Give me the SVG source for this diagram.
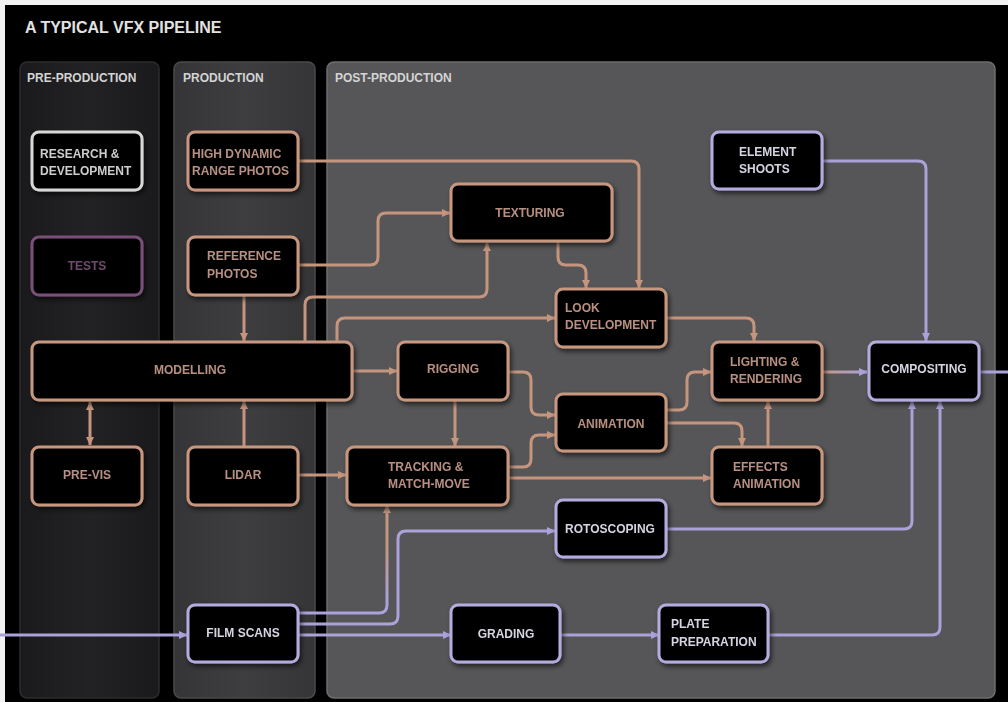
<svg xmlns="http://www.w3.org/2000/svg" width="1008" height="702" viewBox="0 0 1008 702">
<style>
text{font-family:"Liberation Sans",Arial,sans-serif;font-weight:bold;font-size:12px}
.title{font-size:16px;fill:#e2e2e2}
.plabel{fill:#d4d4d4}
.node rect{fill:#050505;stroke-width:3}
.o rect{stroke:#c8977f}
.o text{fill:#b88f80}
.p rect{stroke:#b4acdf}
.p text{fill:#d4d4e2}
.w rect{stroke:#d8d8d8}
.w text{fill:#cdcdcd}
.t rect{stroke:#7a4f7a}
.t text{fill:#6e4a6e}
.c{text-anchor:middle}
.co{fill:none;stroke:#c6957e;stroke-width:3}
.cp{fill:none;stroke:#aaa2d8;stroke-width:3}
</style>
<defs>
<marker id="ao" markerUnits="userSpaceOnUse" markerWidth="9" markerHeight="9" refX="8" refY="4.5" orient="auto-start-reverse"><path d="M0,0.5 L8.5,4.5 L0,8.5 Z" fill="#c6957e"/></marker>
<marker id="ap" markerUnits="userSpaceOnUse" markerWidth="9" markerHeight="9" refX="8" refY="4.5" orient="auto"><path d="M0,0.5 L8.5,4.5 L0,8.5 Z" fill="#aaa2d8"/></marker>
<linearGradient id="gTrack" gradientUnits="userSpaceOnUse" x1="0" y1="545" x2="0" y2="600"><stop offset="0" stop-color="#c6957e"/><stop offset="1" stop-color="#aaa2d8"/></linearGradient>
<linearGradient id="gLight" gradientUnits="userSpaceOnUse" x1="821" y1="0" x2="866" y2="0"><stop offset="0" stop-color="#c6957e"/><stop offset="1" stop-color="#aaa2d8"/></linearGradient>
<linearGradient id="gPre" x1="0" y1="0" x2="1" y2="0"><stop offset="0" stop-color="#1a1a1c"/><stop offset="0.5" stop-color="#222224"/><stop offset="1" stop-color="#1a1a1c"/></linearGradient>
<linearGradient id="gProd" x1="0" y1="0" x2="1" y2="0"><stop offset="0" stop-color="#353537"/><stop offset="0.5" stop-color="#3e3e40"/><stop offset="1" stop-color="#353537"/></linearGradient>
<filter id="sh" x="-20%" y="-20%" width="140%" height="150%"><feDropShadow dx="2" dy="3" stdDeviation="2.5" flood-color="#000" flood-opacity="0.6"/></filter>
</defs>
<rect width="1008" height="702" fill="#000"/>
<rect x="0" y="0" width="1008" height="5" fill="#f2f2f2"/>
<rect x="0" y="0" width="5" height="702" fill="#f2f2f2"/>
<text x="25" y="33" class="title">A TYPICAL VFX PIPELINE</text>
<g id="panels">
<rect x="20" y="62" width="139" height="636" rx="7" fill="url(#gPre)" stroke="#2c2c2e" stroke-width="1.5"/>
<rect x="174" y="62" width="141" height="636" rx="7" fill="url(#gProd)" stroke="#4a4a4c" stroke-width="1.5"/>
<rect x="327" y="62" width="668" height="636" rx="7" fill="#565658" stroke="#6e6e70" stroke-width="1.5"/>
<text x="27" y="82" class="plabel">PRE-PRODUCTION</text>
<text x="183" y="82" class="plabel">PRODUCTION</text>
<text x="335" y="82" class="plabel">POST-PRODUCTION</text>
</g>
<g id="connectors">
<path class="co" d="M298,161 H631 q8,0 8,8 V288" marker-end="url(#ao)"/>
<path class="co" d="M298,265 H370 q8,0 8,-8 V221 q0,-8 8,-8 H450" marker-end="url(#ao)"/>
<path class="co" d="M558,242 V257 q0,8 8,8 H578 q8,0 8,8 V288" marker-end="url(#ao)"/>
<path class="co" d="M305,342 V305 q0,-8 8,-8 H479 q8,0 8,-8 V243" marker-end="url(#ao)"/>
<path class="co" d="M337,342 V326 q0,-8 8,-8 H555" marker-end="url(#ao)"/>
<path class="co" d="M244,296 V341" marker-end="url(#ao)"/>
<path class="co" d="M244,446 V401" marker-end="url(#ao)"/>
<path class="co" d="M90,402 V445" marker-start="url(#ao)" marker-end="url(#ao)"/>
<path class="co" d="M298,475 H346" marker-end="url(#ao)"/>
<path class="co" d="M352,371 H397" marker-end="url(#ao)"/>
<path class="co" d="M455,400 V446" marker-end="url(#ao)"/>
<path class="co" d="M508,372 H523 q8,0 8,8 V407 q0,8 8,8 H555" marker-end="url(#ao)"/>
<path class="co" d="M508,467 H523 q8,0 8,-8 V443 q0,-8 8,-8 H555" marker-end="url(#ao)"/>
<path class="co" d="M508,478 H711" marker-end="url(#ao)"/>
<path class="co" d="M666,410 H679 q8,0 8,-8 V380 q0,-8 8,-8 H711" marker-end="url(#ao)"/>
<path class="co" d="M666,423 H734 q8,0 8,8 V446" marker-end="url(#ao)"/>
<path class="co" d="M768,446 V401" marker-end="url(#ao)"/>
<path class="co" d="M666,318 H746 q8,0 8,8 V341" marker-end="url(#ao)"/>
<path fill="none" stroke="url(#gLight)" stroke-width="3" d="M821,372 H867" marker-end="url(#ap)"/>
<path class="cp" d="M821,161 H918 q8,0 8,8 V341" marker-end="url(#ap)"/>
<path class="cp" d="M978,372 H1008" stroke="#c8c4e6"/>
<path class="cp" d="M0,635 H187" marker-end="url(#ap)"/>
<path class="cp" d="M298,635 H451" marker-end="url(#ap)"/>
<path fill="none" stroke="url(#gTrack)" stroke-width="3" d="M298,613 H379 q8,0 8,-8 V505" marker-end="url(#ao)"/>
<path class="cp" d="M298,624 H390 q8,0 8,-8 V539 q0,-8 8,-8 H555" marker-end="url(#ap)"/>
<path class="cp" d="M666,529 H904 q8,0 8,-8 V401" marker-end="url(#ap)"/>
<path class="cp" d="M560,635 H659" marker-end="url(#ap)"/>
<path class="cp" d="M768,635 H932 q8,0 8,-8 V401" marker-end="url(#ap)"/>
</g>
<g id="research" class="node w" filter="url(#sh)"><rect x="32" y="132" width="110" height="58" rx="7"/><text x="40" y="158">RESEARCH &amp;</text><text x="40" y="175">DEVELOPMENT</text></g>
<g id="tests" class="node t" filter="url(#sh)"><rect x="32" y="237" width="110" height="58" rx="7"/><text x="87" y="270" class="c">TESTS</text></g>
<g id="hdr" class="node o" filter="url(#sh)"><rect x="188" y="132" width="110" height="58" rx="7"/><text x="192" y="158">HIGH DYNAMIC</text><text x="192" y="175">RANGE PHOTOS</text></g>
<g id="refphotos" class="node o" filter="url(#sh)"><rect x="188" y="237" width="110" height="58" rx="7"/><text x="207" y="260">REFERENCE</text><text x="207" y="278">PHOTOS</text></g>
<g id="modelling" class="node o" filter="url(#sh)"><rect x="32" y="342" width="320" height="58" rx="7"/><text x="190" y="374" class="c">MODELLING</text></g>
<g id="previs" class="node o" filter="url(#sh)"><rect x="32" y="447" width="110" height="58" rx="7"/><text x="87" y="479" class="c">PRE-VIS</text></g>
<g id="lidar" class="node o" filter="url(#sh)"><rect x="188" y="447" width="110" height="58" rx="7"/><text x="243" y="479" class="c">LIDAR</text></g>
<g id="texturing" class="node o" filter="url(#sh)"><rect x="451" y="184" width="161" height="57" rx="7"/><text x="530" y="217" class="c">TEXTURING</text></g>
<g id="lookdev" class="node o" filter="url(#sh)"><rect x="556" y="289" width="110" height="58" rx="7"/><text x="565" y="312">LOOK</text><text x="565" y="329">DEVELOPMENT</text></g>
<g id="rigging" class="node o" filter="url(#sh)"><rect x="398" y="342" width="110" height="58" rx="7"/><text x="453" y="373" class="c">RIGGING</text></g>
<g id="animation" class="node o" filter="url(#sh)"><rect x="556" y="394" width="110" height="57" rx="7"/><text x="611" y="428" class="c">ANIMATION</text></g>
<g id="tracking" class="node o" filter="url(#sh)"><rect x="347" y="447" width="161" height="58" rx="7"/><text x="388" y="471">TRACKING &amp;</text><text x="388" y="488">MATCH-MOVE</text></g>
<g id="lighting" class="node o" filter="url(#sh)"><rect x="712" y="342" width="110" height="58" rx="7"/><text x="730" y="366">LIGHTING &amp;</text><text x="730" y="383">RENDERING</text></g>
<g id="effects" class="node o" filter="url(#sh)"><rect x="712" y="447" width="110" height="57" rx="7"/><text x="733" y="471">EFFECTS</text><text x="733" y="488">ANIMATION</text></g>
<g id="element" class="node p" filter="url(#sh)"><rect x="712" y="132" width="110" height="57" rx="7"/><text x="739" y="156">ELEMENT</text><text x="739" y="173">SHOOTS</text></g>
<g id="compositing" class="node p" filter="url(#sh)"><rect x="869" y="342" width="110" height="58" rx="7"/><text x="924" y="373" class="c">COMPOSITING</text></g>
<g id="roto" class="node p" filter="url(#sh)"><rect x="556" y="500" width="110" height="57" rx="7"/><text x="610" y="533" class="c">ROTOSCOPING</text></g>
<g id="filmscans" class="node p" filter="url(#sh)"><rect x="188" y="605" width="110" height="57" rx="7"/><text x="243" y="637" class="c">FILM SCANS</text></g>
<g id="grading" class="node p" filter="url(#sh)"><rect x="451" y="605" width="109" height="57" rx="7"/><text x="506" y="638" class="c">GRADING</text></g>
<g id="plate" class="node p" filter="url(#sh)"><rect x="659" y="605" width="109" height="57" rx="7"/><text x="671" y="628">PLATE</text><text x="671" y="646">PREPARATION</text></g>
</svg>
